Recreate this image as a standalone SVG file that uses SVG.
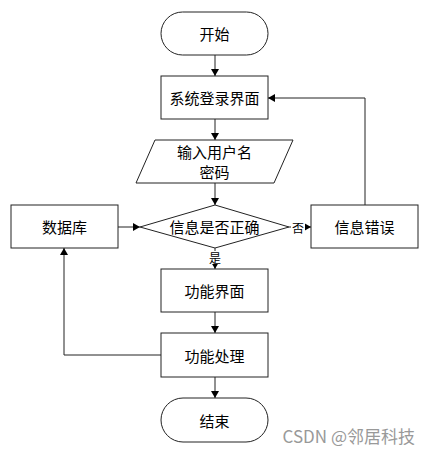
<svg xmlns="http://www.w3.org/2000/svg" width="430" height="453" viewBox="0 0 430 453">
<style>
.s{fill:#fff;stroke:#222;stroke-width:1}
.t{font-family:"Noto Sans CJK SC","Liberation Sans",sans-serif;font-size:15px;fill:#000;text-anchor:middle;dominant-baseline:central}
.l{font-family:"Noto Sans CJK SC","Liberation Sans",sans-serif;font-size:12px;fill:#000;text-anchor:middle;dominant-baseline:central}
.c{fill:none;stroke:#222;stroke-width:1}
</style>
<defs>
<marker id="a" markerWidth="8" markerHeight="8" refX="7" refY="4" orient="auto" markerUnits="userSpaceOnUse">
<path d="M0,0 L7,4 L0,8 Z" fill="#000"/>
</marker>
</defs>
<rect width="430" height="453" fill="#fff"/>
<g id="connectors">
<line class="c" x1="215" y1="55" x2="215" y2="76" marker-end="url(#a)"/>
<line class="c" x1="215" y1="119" x2="215" y2="140" marker-end="url(#a)"/>
<line class="c" x1="215" y1="183" x2="215" y2="205" marker-end="url(#a)"/>
<line class="c" x1="118" y1="227" x2="140" y2="227" marker-end="url(#a)"/>
<line class="c" x1="289" y1="227" x2="311" y2="227" marker-end="url(#a)"/>
<polyline class="c" points="365,205 365,98 268,98" marker-end="url(#a)"/>
<line class="c" x1="215" y1="248" x2="215" y2="269" marker-end="url(#a)"/>
<line class="c" x1="215" y1="312" x2="215" y2="333" marker-end="url(#a)"/>
<polyline class="c" points="161,355 64,355 64,248" marker-end="url(#a)"/>
<line class="c" x1="215" y1="377" x2="215" y2="398" marker-end="url(#a)"/>
<rect x="291" y="220" width="14" height="14" fill="#fff"/>
<text class="l" x="298" y="227">否</text>
<rect x="208" y="251" width="14" height="13" fill="#fff"/>
<text class="l" x="215" y="257">是</text>
</g>
<g id="start">
<rect class="s" x="161" y="12" width="107" height="43" rx="21.5"/>
<text class="t" x="214.5" y="33.5">开始</text>
</g>
<g id="login">
<rect class="s" x="161" y="76" width="107" height="43"/>
<text class="t" x="214.5" y="97.5">系统登录界面</text>
</g>
<g id="input">
<polygon class="s" points="155,140 293,140 274,183 136,183"/>
<text class="t" x="214.5" y="151">输入用户名</text>
<text class="t" x="214.5" y="171">密码</text>
</g>
<g id="check">
<polygon class="s" points="215,205 289,227 215,248 140,227"/>
<text class="t" x="214.5" y="226.5">信息是否正确</text>
</g>
<g id="db">
<rect class="s" x="11" y="205" width="107" height="43"/>
<text class="t" x="64.5" y="226.5">数据库</text>
</g>
<g id="error">
<rect class="s" x="311" y="205" width="107" height="43"/>
<text class="t" x="364.5" y="226.5">信息错误</text>
</g>
<g id="func">
<rect class="s" x="161" y="269" width="107" height="43"/>
<text class="t" x="214.5" y="290.5">功能界面</text>
</g>
<g id="proc">
<rect class="s" x="161" y="333" width="107" height="44"/>
<text class="t" x="214.5" y="355">功能处理</text>
</g>
<g id="end">
<rect class="s" x="161" y="398" width="107" height="44" rx="22"/>
<text class="t" x="214.5" y="420">结束</text>
</g>
<text x="415" y="435" font-family="'Noto Sans CJK SC','Liberation Sans',sans-serif" font-size="17" fill="#999" text-anchor="end" dominant-baseline="central">CSDN @邻居科技</text>
</svg>
